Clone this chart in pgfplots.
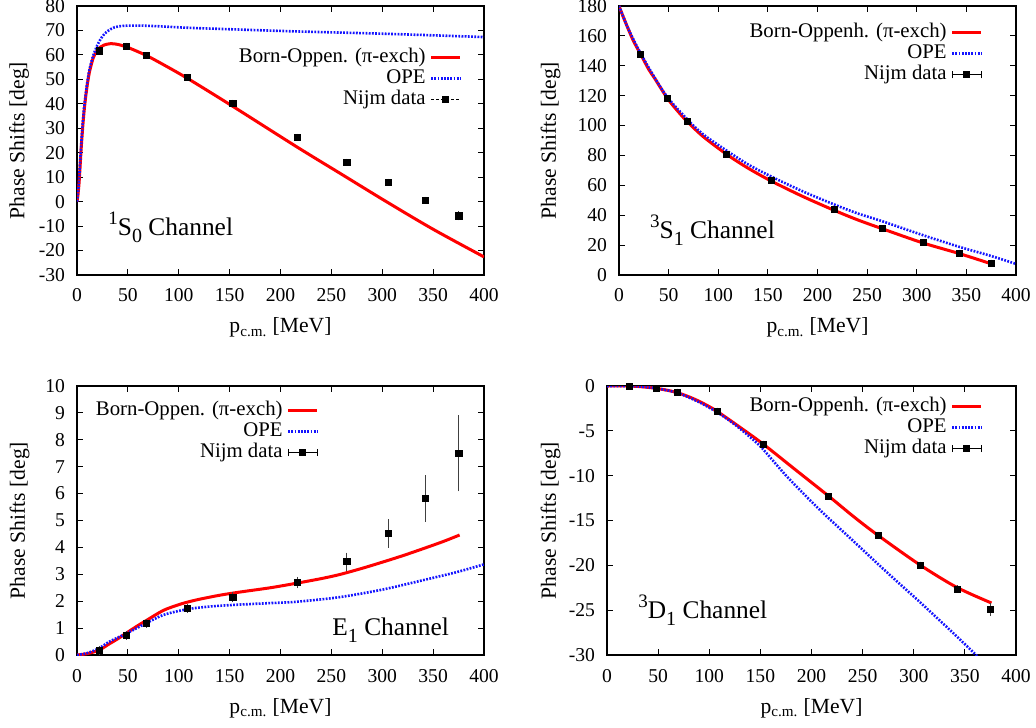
\documentclass[border=0pt]{standalone}
\usepackage{fontspec}
\setmainfont{Liberation Serif}
\usepackage{pgfplots}
\usepackage{pgfplotstable}
\pgfplotsset{compat=1.18}

\definecolor{boRed}{RGB}{255,0,0}
\definecolor{opeBlue}{RGB}{20,20,255}

% Nijmegen phase shifts: p_cm [MeV], delta [deg], error
\pgfplotstableread{
p d e
21.7 61.6 0
48.4 63.4 0
68.5 59.7 0
108.3 50.7 0
153.2 40.1 0
216.7 26.2 0
265.3 16.0 0
306.4 7.8 0
342.6 0.5 0
375.3 -5.8 0.35
}\nijmSzero
\pgfplotstableread{
p d e
21.7 147.5 0
48.4 118.1 0
68.5 102.7 0
108.3 80.6 0
153.2 63.3 0
216.7 43.9 0
265.3 31.0 0
306.4 21.6 0
342.6 14.5 0
375.3 7.8 0
}\nijmSone
\pgfplotstableread{
p d e
21.7 0.17 0.02
48.4 0.73 0.02
68.5 1.18 0.03
108.3 1.73 0.04
153.2 2.14 0.05
216.7 2.69 0.08
265.3 3.47 0.20
306.4 4.52 0.40
342.6 5.82 0.73
375.3 7.50 1.28
}\nijmEone
\pgfplotstableread{
p d e
21.7 -0.02 0
48.4 -0.26 0
68.5 -0.70 0
108.3 -2.82 0
153.2 -6.50 0
216.7 -12.34 0
265.3 -16.66 0
306.4 -20.00 0
342.6 -22.65 0
375.3 -24.95 0.30
}\nijmDone

\tikzset{chanlabel/.style={anchor=base west, inner sep=0pt, font=\fontsize{12.7}{14}\selectfont}}

\pgfplotsset{
  phase/.style={
    scale only axis, anchor=south west,
    xmin=0, xmax=400, xtick={0,50,...,400},
    tick align=inside, major tick length=3pt,
    tick style={black, line width=0.5pt},
    axis line style={line width=0.6pt},
    /pgf/number format/assume math mode=true,
    tick label style={font=\fontsize{9.8}{10}\selectfont},
    xticklabel style={anchor=base, yshift=-13.5pt},
    yticklabel style={anchor=east, inner sep=0pt, xshift=-5.8pt},
    xlabel={p\textsubscript{c.m.} [MeV]},
    ylabel={Phase Shifts [deg]},
    label style={font=\fontsize{10.8}{12}\selectfont},
    xlabel style={at={(axis description cs:0.5,0)}, anchor=base, yshift=-29pt},
    legend plot pos=right,
    legend cell align=right,
    legend style={draw=none, fill=none, inner sep=0pt, column sep=2pt,
      font=\fontsize{10.4}{12}\selectfont, anchor=north east,
      nodes={inner sep=0pt, text height=7.5pt, text depth=3pt}},
    legend image code/.code={\draw[##1] (0pt,0pt) -- (14.5pt,0pt);},
  },
  bo/.style={color=boRed, line width=1.5pt, smooth, tension=0.5, mark=none},
  ope/.style={color=opeBlue, line width=1.3pt, dash pattern=on 0.9pt off 0.7pt, smooth, tension=0.5, mark=none},
  nijm/.style={only marks, mark=square*, mark size=1.55pt, black,
    error bars/y dir=both, error bars/y explicit,
    error bars/error bar style={line width=0.5pt, black!75},
    error bars/error mark options={mark size=1.8pt, line width=0.5pt, black!75}},
  barkey/.style={legend image code/.code={
    \draw[black, line width=0.5pt] (0pt,0pt) -- (14.5pt,0pt);
    \draw[black, line width=0.5pt] (0pt,-1.8pt) -- (0pt,1.8pt);
    \draw[black, line width=0.5pt] (14.5pt,-1.8pt) -- (14.5pt,1.8pt);
    \draw[black, fill=black] plot[mark=square*, mark size=1.5pt] coordinates {(7.25pt,0pt)};}},
  dashkey/.style={legend image code/.code={
    \draw[black, line width=0.5pt, dash pattern=on 1.5pt off 1pt] (0pt,0pt) -- (14.5pt,0pt);
    \draw[black, fill=black] plot[mark=square*, mark size=1.5pt] coordinates {(7.25pt,0pt)};}},
}

\newcommand{\up}[1]{\raisebox{0.42em}{\fontsize{9.5}{10}\selectfont #1}}
\newcommand{\dn}[1]{\raisebox{-0.28em}{\fontsize{10}{10}\selectfont #1}}

\begin{document}
\begin{tikzpicture}
\useasboundingbox (0,0) rectangle (518pt,363.5pt);

% ---------------- 1S0 ----------------
\begin{axis}[phase, at={(38.5pt,226pt)}, width=203.5pt, height=134.5pt,
  ymin=-30, ymax=80, ytick={-30,-20,...,80},
  ylabel style={at={(axis description cs:0,0.5)}, anchor=center, yshift=29pt},
  legend style={at={(rel axis cs:0.946,0.8485)}}]
\addplot[bo] coordinates {
(0,0) (1,3) (2,7.5) (3,14) (4,21) (5,27) (6,32.5) (7,37) (8,41) (10,47.5)
(12,52.5) (14,56) (16,58.8) (19,61.3) (23,63.2) (27,64.1) (33,64.6) (40,64.3)
(49,63.2) (60,61.3) (69,59.6) (85,56) (109,50.3) (153,39.0) (216,22.4)
(260,11.2) (304,0) (350,-11.3) (400,-22.6)};
\addlegendentry{Born-Oppen. (π-exch)}
\addplot[ope] coordinates {
(0,0) (1,3.5) (2,9) (3,16) (4,22.5) (5,28.5) (6,34) (7,38.5) (8,42) (10,48.5)
(12,53.5) (14,57) (16,59.8) (20,64) (25,67.6) (30,69.7) (37,71.3) (46,71.9)
(60,72) (76,71.8) (109,71.1) (150,70.5) (216,69.6) (306,68.6) (400,67.3)};
\addlegendentry{OPE}
\addplot[nijm, dashkey] table[x=p, y=d, y error=e] {\nijmSzero};
\addlegendentry{Nijm data}
\node[chanlabel] at (axis cs:30.5,-13.7) {\up{1}S\dn{0} Channel};
\end{axis}

% ---------------- 3S1 ----------------
\begin{axis}[phase, at={(309.5pt,226pt)}, width=198.5pt, height=134.5pt,
  ymin=0, ymax=180, ytick={0,20,...,180},
  ylabel style={at={(axis description cs:0,0.5)}, anchor=center, yshift=34.25pt},
  legend style={at={(rel axis cs:0.917,0.9414)}}]
\addplot[bo] coordinates {
(0,180) (5,171.5) (10,163.5) (15,156) (22,147.5) (30,137.5) (36,131.5) (49,118)
(60,109) (69,102.5) (85,92.5) (109,80.5) (130,71.5) (153,63) (185,52.6)
(216,43.5) (240,37) (265,31) (306,21.5) (342,14.5) (375,7.5)};
\addlegendentry{Born-Oppenh. (π-exch)}
\addplot[ope] coordinates {
(0,180) (5,171.7) (10,163.8) (22,148) (36,132) (49,118.8) (69,104) (85,94)
(109,83) (130,74) (153,66) (185,56) (216,47.4) (240,41.3) (265,36) (306,26.7)
(342,19) (375,12.7) (400,7.4)};
\addlegendentry{OPE}
\addplot[nijm, barkey] table[x=p, y=d, y error=e] {\nijmSone};
\addlegendentry{Nijm data}
\node[chanlabel] at (axis cs:31,24.5) {\up{3}S\dn{1} Channel};
\end{axis}

% ---------------- E1 ----------------
\begin{axis}[phase, at={(38.5pt,36pt)}, width=203.5pt, height=134.5pt,
  ymin=0, ymax=10, ytick={0,1,...,10},
  ylabel style={at={(axis description cs:0,0.5)}, anchor=center, yshift=28.75pt},
  legend style={at={(rel axis cs:0.5946,0.9489)}}]
\addplot[bo] coordinates {
(0,0) (10,0.05) (21.6,0.18) (32,0.42) (40,0.6) (48,0.8) (58,1.05) (68,1.28)
(85,1.66) (100,1.87) (108,1.96) (120,2.07) (140,2.22) (160,2.34) (190,2.5)
(216,2.67) (240,2.84) (258,2.99) (280,3.22) (300,3.45) (320,3.69) (340,3.95)
(360,4.22) (376,4.46)};
\addlegendentry{Born-Oppen. (π-exch)}
\addplot[ope] coordinates {
(0,0) (10,0.07) (21.6,0.25) (32,0.5) (48,0.79) (68,1.18) (85,1.49) (108,1.7)
(130,1.8) (153,1.86) (190,1.93) (216,1.98) (258,2.15) (300,2.43) (340,2.78)
(373,3.08) (400,3.37)};
\addlegendentry{OPE}
\addplot[nijm, barkey] table[x=p, y=d, y error=e] {\nijmEone};
\addlegendentry{Nijm data}
\node[chanlabel] at (axis cs:250.6,0.74) {E\dn{1} Channel};
\end{axis}

% ---------------- 3D1 ----------------
\begin{axis}[phase, at={(303.5pt,36pt)}, width=204.5pt, height=134.5pt,
  ymin=-30, ymax=0, ytick={-30,-25,...,0},
  ylabel style={at={(axis description cs:0,0.5)}, anchor=center, yshift=28.25pt},
  legend style={at={(rel axis cs:0.9193,0.9638)}}]
\addplot[bo] coordinates {
(0,0) (20,0) (30,-0.05) (40,-0.15) (49,-0.28) (60,-0.5) (69,-0.75) (80,-1.2)
(90,-1.7) (100,-2.3) (108,-2.85) (130,-4.6) (153,-6.5) (185.5,-9.45)
(217,-12.3) (241,-14.55) (265,-16.65) (306,-19.95) (342,-22.45) (376,-24.2)};
\addlegendentry{Born-Oppenh. (π-exch)}
\addplot[ope] coordinates {
(0,0) (20,0) (30,-0.05) (49,-0.27) (69,-0.77) (90,-1.8) (108,-2.95) (125,-4.3)
(143,-6.0) (153,-7.1) (176,-10.1) (208,-13.8) (241,-17.3) (273,-20.7)
(306,-24.1) (339,-27.6) (360,-29.9) (372,-31.3)};
\addlegendentry{OPE}
\addplot[nijm, barkey] table[x=p, y=d, y error=e] {\nijmDone};
\addlegendentry{Nijm data}
\node[chanlabel] at (axis cs:30.3,-25.9) {\up{3}D\dn{1} Channel};
\end{axis}
\end{tikzpicture}
\end{document}
